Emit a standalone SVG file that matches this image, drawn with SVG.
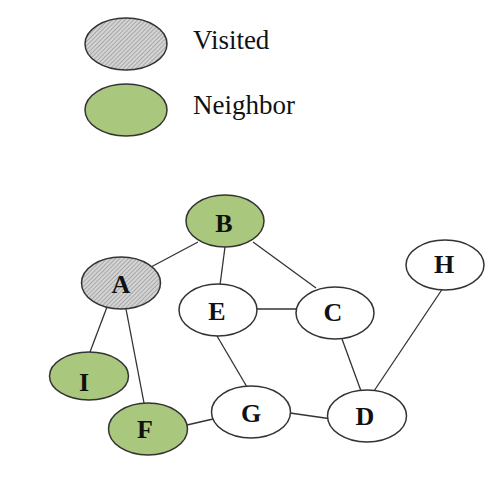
<svg xmlns="http://www.w3.org/2000/svg" width="502" height="478" viewBox="0 0 502 478">
<defs>
<pattern id="hatch" patternUnits="userSpaceOnUse" width="3" height="3" patternTransform="rotate(45)">
<rect width="3" height="3" fill="#d4d4d4"/>
<line x1="0" y1="0" x2="0" y2="3" stroke="#8a8a8a" stroke-width="1.2"/>
</pattern>
<style>
.n{stroke:#333;stroke-width:1.5}
.w{fill:#fff}
.g{fill:#a9c87d}
.v{fill:url(#hatch)}
.lab{font-family:"Liberation Serif","Times New Roman",serif;font-weight:bold;font-size:26px;fill:#111;text-anchor:middle}
.leg{font-family:"Liberation Serif","Times New Roman",serif;font-size:27px;fill:#111}
.e{stroke:#333;stroke-width:1.3;fill:none}
</style>
</defs>
<rect width="502" height="478" fill="#fff"/>
<g id="legend">
<g id="legend-visited">
<ellipse class="n v" cx="126" cy="44" rx="41" ry="26"/>
<text class="leg" x="193" y="49">Visited</text>
</g>
<g id="legend-neighbor">
<ellipse class="n g" cx="126" cy="110" rx="41" ry="26"/>
<text class="leg" x="193" y="114">Neighbor</text>
</g>
</g>
<g id="connectors">
<line class="e" x1="198" y1="242" x2="151" y2="267"/>
<line class="e" x1="225" y1="247" x2="220" y2="285"/>
<line class="e" x1="253" y1="242" x2="316" y2="288"/>
<line class="e" x1="257" y1="309" x2="297" y2="309"/>
<line class="e" x1="107" y1="307" x2="90" y2="352"/>
<line class="e" x1="126" y1="309" x2="144" y2="403"/>
<line class="e" x1="217" y1="336" x2="247" y2="387"/>
<line class="e" x1="187" y1="425" x2="213" y2="419"/>
<line class="e" x1="290" y1="413" x2="332" y2="419"/>
<line class="e" x1="342" y1="339" x2="361" y2="391"/>
<line class="e" x1="443" y1="288" x2="374" y2="391"/>
</g>
<g id="node-B"><ellipse class="n g" cx="225" cy="221" rx="39" ry="26"/><text class="lab" x="224" y="232">B</text></g>
<g id="node-A"><ellipse class="n v" cx="121" cy="283" rx="39.5" ry="26"/><text class="lab" x="121" y="293">A</text></g>
<g id="node-E"><ellipse class="n w" cx="218" cy="310" rx="39" ry="26"/><text class="lab" x="217" y="320">E</text></g>
<g id="node-C"><ellipse class="n w" cx="335" cy="313" rx="39" ry="26"/><text class="lab" x="333" y="321">C</text></g>
<g id="node-H"><ellipse class="n w" cx="445" cy="265" rx="39" ry="25"/><text class="lab" x="444" y="273">H</text></g>
<g id="node-I"><ellipse class="n g" cx="89" cy="376" rx="39.5" ry="24"/><text class="lab" x="84" y="391">I</text></g>
<g id="node-F"><ellipse class="n g" cx="148" cy="429" rx="39.5" ry="26"/><text class="lab" x="145" y="438">F</text></g>
<g id="node-G"><ellipse class="n w" cx="251" cy="412" rx="39.5" ry="26"/><text class="lab" x="251" y="422">G</text></g>
<g id="node-D"><ellipse class="n w" cx="367" cy="416" rx="39.5" ry="26"/><text class="lab" x="365" y="425">D</text></g>
</svg>
